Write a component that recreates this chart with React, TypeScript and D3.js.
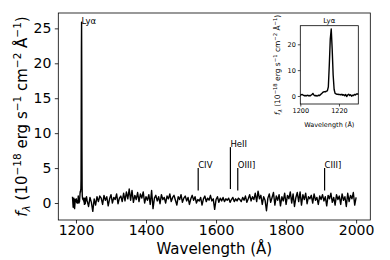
import { useEffect, useRef } from "react";
import * as d3 from "d3";

// blue edge of the spectrum, 2 A sampling
const blueStart = 1190;
const blueStep = 2;
const blueFlux = [0.9, -0.6, 0.7, -0.8, 0.5];

// Lya region, 0.5 A sampling (also shown in the inset)
const lyaStart = 1200;
const lyaStep = 0.5;
const lyaFlux = [
  0.2, 0.5, 0.6, 0.3, 0.1, 0.2, 0.0, 0.3, 0.1, 0.2,
  0.0, 0.3, 0.5, 1.0, 0.4, 0.1, 0.2, 0.0, 0.1, 0.3,
  0.2, 0.6, 0.9, 1.3, 1.6, 1.7, 1.6, 1.9, 2.0, 3.5,
  12, 22, 25.9, 18, 8, 2.5, 1.0, 0.8, 0.6, 0.7,
  0.5, 0.6, 0.4, 0.7, 0.3, 0.5, 0.1, 0.6, -0.2, 0.4,
  0.7, 0.2, 0.5, -0.1, 0.3, 0.2, 0.6, 0.4, 0.8, 0.7,
  0.9,
];

// rest of the spectrum, 4 A sampling
const redStart = 1232;
const redStep = 4;
const redFlux = [
  0.3, -0.5, 0.8, 0.1, -1.2, 0.6, -0.3, 0.9, 0.2, 1.0,
  0.7, -0.2, 1.1, 0.4, 0.9, -0.4, 0.6, 1.2, 0.0, 0.8,
  0.5, 1.3, -0.1, 0.7, 1.0, 0.2, 1.4, 0.3, 1.6, 0.6,
  2.0, 0.4, 1.8, 0.1, 1.1, 0.5, 1.5, 0.2, 1.3, 0.7,
  1.6, 0.0, 0.9, 0.4, 1.2, -0.2, 1.8, -0.8, 0.7, 1.1,
  0.3, 0.9, -0.1, 1.2, 0.5, 0.8, 0.0, 1.0, 0.6, 1.3,
  0.2, 0.8, 1.1, 0.4, -0.3, 0.9, 0.5, 1.2, 0.1, 0.7,
  1.0, 0.3, 0.8, -0.2, 0.6, 1.1, 0.4, 0.9, 0.0, 0.5,
  0.3, 0.8, -0.3, 0.6, 1.0, 0.2, 0.7, 0.4, 1.1, 0.3,
  0.6, -0.9, 0.5, 0.9, 0.1, 0.7, 0.3, 0.8, 0.2, 0.6,
  0.4, 0.7, 0.1, 0.5, 0.8, 0.2, 0.6, 0.3, 0.7, 0.5,
  0.2, 0.8, 0.4, 1.0, 0.1, 0.6, 1.2, 0.3, 0.9, 0.5,
  1.4, 0.2, 1.7, 0.6, 1.1, -0.2, 0.9, 0.4, -1.1, 0.7,
  1.3, 0.1, 0.8, 1.5, -0.3, 1.0, 0.4, 1.2, -0.4, 0.9,
  0.3, 1.4, -0.2, 1.1, 0.6, 1.6, 0.0, 1.3, -0.5, 0.8,
  1.5, 0.2, 1.6, -0.3, 1.2, 0.5, 1.4, -0.1, 0.9, 0.6,
  1.1, 0.0, 1.3, 0.4, 0.8, -0.2, 1.0, 0.5, 1.2, 0.3,
  0.9, -0.4, 1.1, 0.6, 1.4, 0.1, 0.8, -0.3, 1.2, 0.5,
  1.0, -0.2, 1.3, 0.4, 0.9, -0.5, 1.4, 0.2, 1.1, 0.6,
  1.5, -0.3, 0.8,
];

const lineNames = ["CIV", "HeII", "OIII]", "CIII]"];
const lineWaves = [1549, 1641, 1662, 1910];
const lineTops = [5, 8, 5, 5];
const lineBottoms = [1.8, 2.0, 1.8, 1.8];

const mainXTicks = [1200, 1400, 1600, 1800, 2000];
const mainYTicks = [0, 5, 10, 15, 20, 25];
const insetXTicks = [1200, 1220];
const insetYTicks = [0, 10, 20];

type Pt = [number, number];
const toPoints = (start: number, step: number, arr: number[]): Pt[] =>
  arr.map((f, i) => [start + i * step, f] as Pt);

const FONT = "DejaVu Sans, sans-serif";

// f_lambda (10^-18 erg s^-1 cm^-2 A^-1) with sub/superscripts
function fluxLabel(sel: d3.Selection<SVGTextElement, unknown, null, undefined>, fs: number) {
  const parts: { t: string; shift: number; italic?: boolean; small?: boolean }[] = [
    { t: "f", shift: 0, italic: true },
    { t: "λ", shift: 0.22, italic: true, small: true },
    { t: " (10", shift: 0 },
    { t: "−18", shift: -0.42, small: true },
    { t: " erg s", shift: 0 },
    { t: "−1", shift: -0.42, small: true },
    { t: " cm", shift: 0 },
    { t: "−2", shift: -0.42, small: true },
    { t: " Å", shift: 0 },
    { t: "−1", shift: -0.42, small: true },
    { t: ")", shift: 0 },
  ];
  let cur = 0;
  parts.forEach(p => {
    const dy = (p.shift - cur) * fs;
    cur = p.shift;
    sel.append("tspan")
      .attr("dy", dy)
      .attr("font-size", p.small ? fs * 0.7 : fs)
      .attr("font-style", p.italic ? "italic" : "normal")
      .text(p.t);
  });
}

export default function App() {
  const svgRef = useRef<SVGSVGElement>(null);

  useEffect(() => {
    if (!svgRef.current) return;
    const svg = d3.select(svgRef.current);
    svg.selectAll("*").remove();

    const spectrum = [
      ...toPoints(blueStart, blueStep, blueFlux),
      ...toPoints(lyaStart, lyaStep, lyaFlux),
      ...toPoints(redStart, redStep, redFlux),
    ];
    const lya = toPoints(lyaStart, lyaStep, lyaFlux);

    // ---- main panel
    const left = 58.3, right = 370.3, top = 13, bottom = 220;
    const x = d3.scaleLinear().domain([1149.5, 2040.5]).range([left, right]);
    const y = d3.scaleLinear().domain([-2.43, 27.2]).range([bottom, top]);

    const gx = svg.append("g")
      .attr("transform", `translate(0,${bottom})`)
      .call(d3.axisBottom(x).tickValues(mainXTicks).tickFormat(d3.format("d"))
        .tickSize(3.5).tickSizeOuter(0).tickPadding(2));
    gx.select(".domain").remove();
    gx.selectAll("line").attr("stroke", "#000").attr("stroke-width", 0.8);
    gx.selectAll("text").attr("fill", "#000").attr("font-size", 14).attr("font-family", FONT);

    const gy = svg.append("g")
      .attr("transform", `translate(${left},0)`)
      .call(d3.axisLeft(y).tickValues(mainYTicks).tickFormat(d3.format("d"))
        .tickSize(3.5).tickSizeOuter(0).tickPadding(3.5));
    gy.select(".domain").remove();
    gy.selectAll("line").attr("stroke", "#000").attr("stroke-width", 0.8);
    gy.selectAll("text").attr("fill", "#000").attr("font-size", 14).attr("font-family", FONT);

    const line = d3.line<Pt>().x(d => x(d[0])).y(d => y(d[1]));
    svg.append("path")
      .datum(spectrum)
      .attr("fill", "none")
      .attr("stroke", "#000")
      .attr("stroke-width", 1.4)
      .attr("stroke-linejoin", "round")
      .attr("d", line);

    // emission line markers
    svg.selectAll("line.mark")
      .data(lineNames)
      .enter()
      .append("line")
      .attr("x1", (_, i) => x(lineWaves[i]))
      .attr("x2", (_, i) => x(lineWaves[i]))
      .attr("y1", (_, i) => y(lineBottoms[i]))
      .attr("y2", (_, i) => y(lineTops[i]))
      .attr("stroke", "#000")
      .attr("stroke-width", 1.2);
    svg.selectAll("text.mark")
      .data(lineNames)
      .enter()
      .append("text")
      .attr("x", (_, i) => x(lineWaves[i]))
      .attr("y", (_, i) => y(lineTops[i]))
      .attr("font-size", 8.5)
      .attr("font-family", FONT)
      .text(d => d);
    const peak = lya[d3.maxIndex(lya, d => d[1])];
    svg.append("text")
      .attr("x", x(peak[0]))
      .attr("y", y(peak[1]) + 2)
      .attr("font-size", 8.5)
      .attr("font-family", FONT)
      .text("Lyα");

    svg.append("rect")
      .attr("x", left).attr("y", top)
      .attr("width", right - left).attr("height", bottom - top)
      .attr("fill", "none").attr("stroke", "#000").attr("stroke-width", 0.8);

    svg.append("text")
      .attr("x", (left + right) / 2)
      .attr("y", 254)
      .attr("text-anchor", "middle")
      .attr("font-size", 15)
      .attr("font-family", FONT)
      .text("Wavelength (Å)");

    const yl = svg.append("text")
      .attr("transform", `translate(27,${(top + bottom) / 2}) rotate(-90)`)
      .attr("text-anchor", "middle")
      .attr("font-family", FONT);
    fluxLabel(yl, 15);

    // ---- inset
    const il = 300.3, ir = 358.3, it = 25.7, ib = 104;
    const ix = d3.scaleLinear().domain([1200, 1230]).range([il, ir]);
    const iy = d3.scaleLinear().domain([-3.1, 27.2]).range([ib, it]);

    svg.append("rect")
      .attr("x", il).attr("y", it)
      .attr("width", ir - il).attr("height", ib - it)
      .attr("fill", "#fff");

    const ilinePath = d3.line<Pt>().x(d => ix(d[0])).y(d => iy(d[1]));
    svg.append("path")
      .datum(lya)
      .attr("fill", "none")
      .attr("stroke", "#000")
      .attr("stroke-width", 1.4)
      .attr("stroke-linejoin", "round")
      .attr("d", ilinePath);

    const igx = svg.append("g")
      .attr("transform", `translate(0,${ib})`)
      .call(d3.axisBottom(ix).tickValues(insetXTicks).tickFormat(d3.format("d"))
        .tickSize(2.5).tickSizeOuter(0).tickPadding(1.5));
    igx.select(".domain").remove();
    igx.selectAll("line").attr("stroke", "#000").attr("stroke-width", 0.7);
    igx.selectAll("text").attr("fill", "#000").attr("font-size", 6.5).attr("font-family", FONT);

    const igy = svg.append("g")
      .attr("transform", `translate(${il},0)`)
      .call(d3.axisLeft(iy).tickValues(insetYTicks).tickFormat(d3.format("d"))
        .tickSize(2.5).tickSizeOuter(0).tickPadding(2));
    igy.select(".domain").remove();
    igy.selectAll("line").attr("stroke", "#000").attr("stroke-width", 0.7);
    igy.selectAll("text").attr("fill", "#000").attr("font-size", 6.5).attr("font-family", FONT);

    svg.append("rect")
      .attr("x", il).attr("y", it)
      .attr("width", ir - il).attr("height", ib - it)
      .attr("fill", "none").attr("stroke", "#000").attr("stroke-width", 0.8);

    svg.append("text")
      .attr("x", (il + ir) / 2)
      .attr("y", 22.5)
      .attr("text-anchor", "middle")
      .attr("font-size", 7)
      .attr("font-family", FONT)
      .text("Lyα");

    svg.append("text")
      .attr("x", (il + ir) / 2)
      .attr("y", 127)
      .attr("text-anchor", "middle")
      .attr("font-size", 6.5)
      .attr("font-family", FONT)
      .text("Wavelength (Å)");

    const iyl = svg.append("text")
      .attr("transform", `translate(280,${(it + ib) / 2}) rotate(-90)`)
      .attr("text-anchor", "middle")
      .attr("font-family", FONT);
    fluxLabel(iyl, 7.5);
  }, []);

  return (
    <div style={{ position: "absolute", left: 0, top: 0 }}>
      <svg ref={svgRef} width={390} height={260} style={{ display: "block", background: "#fff" }}></svg>
    </div>
  );
}
